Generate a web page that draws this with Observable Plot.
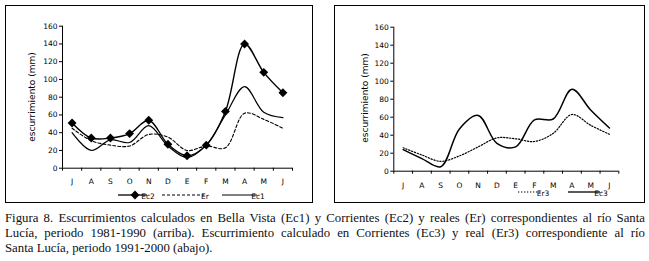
<!DOCTYPE html>
<html><head><meta charset="utf-8">
<script src="https://cdn.jsdelivr.net/npm/d3@7"></script>
<script src="https://cdn.jsdelivr.net/npm/@observablehq/plot@0.6"></script>
<style>
html,body{margin:0;padding:0;background:#fff}
body{width:649px;height:261px;position:relative;overflow:hidden;font-family:"DejaVu Sans",sans-serif}
.box{position:absolute;border:1px solid #000;box-sizing:border-box;background:#fff}
.chart{position:absolute}
#caption{position:absolute;left:5px;top:211px;width:640px;font-family:"Liberation Serif",serif;font-size:12.8px;line-height:14.8px;color:#111}
#caption .j{text-align:justify;text-align-last:justify;white-space:nowrap}
#caption .l{text-align:left;white-space:nowrap}
</style></head>
<body>
<div class="box" style="left:5px;top:5px;width:308px;height:198px"></div>
<div class="box" style="left:334px;top:5px;width:311px;height:198px"></div>
<div id="c1" class="chart" style="left:5px;top:5px"></div>
<div id="c2" class="chart" style="left:334px;top:5px"></div>
<div id="caption"><div class="j">Figura 8. Escurrimientos calculados en Bella Vista (Ec1) y Corrientes (Ec2) y reales (Er) correspondientes al río Santa</div><div class="j">Lucía, periodo 1981-1990 (arriba). Escurrimiento calculado en Corrientes (Ec3) y real (Er3) correspondiente al río</div><div class="l">Santa Lucía, periodo 1991-2000 (abajo).</div></div>
<script>
const months = ["J","A","S","O","N","D","E","F","M","A","M","J"];
const yTicks = [0,20,40,60,80,100,120,140,160];
// Top chart, 1981-1990
const ec2 = [51,34,34,39,54,27,14,26,64,140,108,85];
const ec1 = [40,20,32,29,48,25,12,26,60,92,63,57];
const er  = [45,31,26,25,38,35,20,25,23,62,55,45];
// Bottom chart, 1991-2000
const er3 = [26,18,11,17,27,37,36,33,42,63,51,41];
const ec3 = [24,14,5,47,62,31,27,57,58,91,68,48];

const idx = months.map((_, i) => i);
const bounds = d3.range(months.length + 1).map(i => i - 0.5);
const FONT = "DejaVu Sans, sans-serif";

function chart({w, h, ml, mr, mt, mb, series, xLabelPad}) {
  const marks = [
    Plot.axisY({ticks: yTicks, tickSize: 3, tickPadding: 2, label: null, fontSize: 7.5, fill: "#000"}),
    Plot.axisX({ticks: bounds, tickSize: 3, tickFormat: () => "", label: null}),
    Plot.axisX({ticks: idx, tickSize: 0, tickPadding: xLabelPad, tickFormat: i => months[i], label: null, fontSize: 7.5, fill: "#000"}),
    Plot.ruleY([0], {stroke: "#000", strokeWidth: 1}),
    Plot.ruleX([-0.5], {y1: 0, y2: 160, stroke: "#000", strokeWidth: 1})
  ];
  for (const s of series) {
    const data = s.values.map((v, i) => ({i, v}));
    marks.push(Plot.line(data, {x: "i", y: "v", curve: "catmull-rom", stroke: "#000",
      strokeWidth: s.sw, strokeDasharray: s.dash || null}));
    if (s.marker) marks.push(Plot.dot(data, {x: "i", y: "v", symbol: "diamond2", r: 4, fill: "#000", stroke: "none"}));
  }
  return Plot.plot({
    width: w, height: h, marginLeft: ml, marginRight: mr, marginTop: mt, marginBottom: mb,
    style: {fontFamily: FONT, fontSize: "7.5px", background: "transparent", color: "#000"},
    x: {type: "linear", domain: [-0.5, 11.5], axis: null},
    y: {domain: [0, 160], axis: null},
    marks
  });
}

function legend(svg, items, y) {
  const g = d3.select(svg).append("g").attr("font-family", FONT).attr("font-size", "7.5px");
  for (const it of items) {
    g.append("line").attr("x1", it.x1).attr("x2", it.x2).attr("y1", y).attr("y2", y)
      .attr("stroke", "#000").attr("stroke-width", it.sw).attr("stroke-dasharray", it.dash || null);
    if (it.marker) {
      const s = d3.symbol(d3.symbolDiamond2, 50)();
      g.append("path").attr("d", s).attr("transform", `translate(${it.marker},${y})`).attr("fill", "#000");
    }
    g.append("text").attr("x", it.tx).attr("y", y + 1.5).attr("dy", "0.32em").attr("fill", "#000").text(it.label);
  }
}

function yLabel(svg, x, y) {
  d3.select(svg).append("text").attr("transform", `translate(${x},${y}) rotate(-90)`)
    .attr("text-anchor", "middle").attr("dy", "0.32em").attr("font-family", FONT).attr("font-size", "9px")
    .attr("fill", "#000").text("escurrimiento (mm)");
}

const s1 = chart({w: 308, h: 198, ml: 57, mr: 21, mt: 20.7, mb: 35.3, xLabelPad: 10,
  series: [
    {values: ec2, sw: 1.4, marker: true},
    {values: er, sw: 1.1, dash: "3,2"},
    {values: ec1, sw: 1.2}
  ]});
yLabel(s1, 26.7, 92);
legend(s1, [
  {x1: 113, x2: 142, sw: 1.3, marker: 130, tx: 143, label: "Ec2"},
  {x1: 157, x2: 199, sw: 1, dash: "3,2", tx: 200, label: "Er"},
  {x1: 217, x2: 252, sw: 1.2, tx: 253, label: "Ec1"}
], 190);
document.getElementById("c1").append(s1);

const s2 = chart({w: 311, h: 198, ml: 59.3, mr: 26.7, mt: 21.7, mb: 32.3, xLabelPad: 11,
  series: [
    {values: er3, sw: 1.2, dash: "1.3,1.7"},
    {values: ec3, sw: 1.5}
  ]});
yLabel(s2, 31, 93);
legend(s2, [
  {x1: 184, x2: 208, sw: 1.2, dash: "1.3,1.7", tx: 209, label: "Er3"},
  {x1: 234, x2: 266, sw: 1.3, tx: 267, label: "Ec3"}
], 187);
document.getElementById("c2").append(s2);
</script>
</body></html>
